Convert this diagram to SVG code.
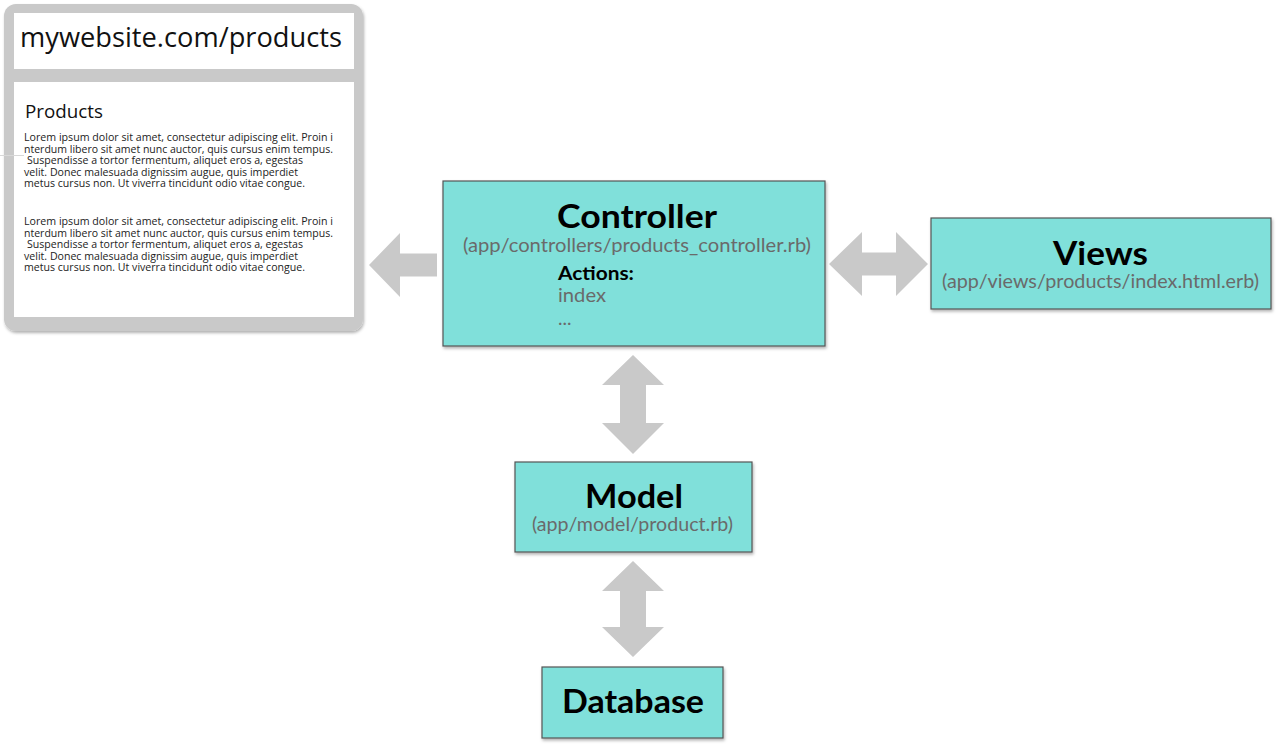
<svg xmlns="http://www.w3.org/2000/svg" width="1277" height="749" viewBox="0 0 1277 749">
<defs>
<style>
.box{fill:#80e0da;stroke:#555;stroke-width:1.2;filter:url(#sh)}
.arrow{fill:#c9c9c9;filter:url(#soft)}
.title{font-family:Lato,"Liberation Sans",sans-serif;font-weight:bold;font-size:32px;fill:#000}
.sub{font-family:Lato,"Liberation Sans",sans-serif;font-size:19px;fill:#6a6a6a}
.lorem{font-family:"Open Sans","Liberation Sans",sans-serif;font-size:10.5px;fill:#222}
</style>
<filter id="sh" x="-10%" y="-10%" width="125%" height="130%">
<feDropShadow dx="1" dy="2" stdDeviation="1.5" flood-color="#000" flood-opacity="0.3"/>
</filter>
<filter id="soft" x="-10%" y="-10%" width="120%" height="120%">
<feGaussianBlur stdDeviation="0.7"/>
</filter>
</defs>
<rect width="1277" height="749" fill="#fff"/>

<g id="browser">
<rect x="4" y="4" width="359" height="327" rx="12" fill="#c9c9c9" filter="url(#sh)"/>
<rect x="14" y="13" width="340" height="56" fill="#fff"/>
<rect x="14" y="82" width="340" height="235" fill="#fff"/>
<line x1="0" y1="155.5" x2="24" y2="155.5" stroke="#d8d8d8" stroke-width="1"/>
<text x="20" y="47" font-family="'Open Sans','Liberation Sans',sans-serif" font-size="27" fill="#111" textLength="322" lengthAdjust="spacingAndGlyphs">mywebsite.com/products</text>
<text x="25" y="118" font-family="'Open Sans','Liberation Sans',sans-serif" font-size="19" fill="#111" textLength="78" lengthAdjust="spacingAndGlyphs">Products</text>
<text class="lorem">
<tspan x="24" y="141" textLength="309" lengthAdjust="spacingAndGlyphs">Lorem ipsum dolor sit amet, consectetur adipiscing elit. Proin i</tspan>
<tspan x="24" y="152.5" textLength="309" lengthAdjust="spacingAndGlyphs">nterdum libero sit amet nunc auctor, quis cursus enim tempus.</tspan>
<tspan x="27" y="164" textLength="276" lengthAdjust="spacingAndGlyphs">Suspendisse a tortor fermentum, aliquet eros a, egestas</tspan>
<tspan x="24" y="175.5" textLength="274" lengthAdjust="spacingAndGlyphs">velit. Donec malesuada dignissim augue, quis imperdiet</tspan>
<tspan x="24" y="187" textLength="281" lengthAdjust="spacingAndGlyphs">metus cursus non. Ut viverra tincidunt odio vitae congue.</tspan>
</text>
<text class="lorem">
<tspan x="24" y="225" textLength="309" lengthAdjust="spacingAndGlyphs">Lorem ipsum dolor sit amet, consectetur adipiscing elit. Proin i</tspan>
<tspan x="24" y="236.5" textLength="309" lengthAdjust="spacingAndGlyphs">nterdum libero sit amet nunc auctor, quis cursus enim tempus.</tspan>
<tspan x="27" y="248" textLength="276" lengthAdjust="spacingAndGlyphs">Suspendisse a tortor fermentum, aliquet eros a, egestas</tspan>
<tspan x="24" y="259.5" textLength="274" lengthAdjust="spacingAndGlyphs">velit. Donec malesuada dignissim augue, quis imperdiet</tspan>
<tspan x="24" y="271" textLength="281" lengthAdjust="spacingAndGlyphs">metus cursus non. Ut viverra tincidunt odio vitae congue.</tspan>
</text>
</g>

<g id="connectors">
<polygon class="arrow" points="369,265 400,233 400,253.5 437,253.5 437,276.5 400,276.5 400,297"/>
<polygon class="arrow" points="829,264 862,232 862,252.5 896,252.5 896,232 928,264 896,296 896,275.5 862,275.5 862,296"/>
<polygon class="arrow" points="633,355 664,385 646,385 646,423 664,423 633,454 602,423 620,423 620,385 602,385"/>
<polygon class="arrow" points="633,561 664,591 646,591 646,627 664,627 633,657 602,627 620,627 620,591 602,591"/>
</g>

<g id="controller">
<rect class="box" x="443" y="181" width="382" height="165"/>
<text class="title" x="557" y="228" textLength="160" lengthAdjust="spacingAndGlyphs">Controller</text>
<text class="sub" x="463" y="252" textLength="348" lengthAdjust="spacingAndGlyphs">(app/controllers/products_controller.rb)</text>
<text x="558" y="280" font-family="Lato,'Liberation Sans',sans-serif" font-weight="bold" font-size="19" fill="#000" textLength="76" lengthAdjust="spacingAndGlyphs">Actions:</text>
<text class="sub" x="558" y="302" textLength="48" lengthAdjust="spacingAndGlyphs">index</text>
<text class="sub" x="558" y="325" font-size="16">...</text>
</g>

<g id="views">
<rect class="box" x="931" y="218" width="340" height="91"/>
<text class="title" x="1053" y="265" textLength="95" lengthAdjust="spacingAndGlyphs">Views</text>
<text class="sub" x="942" y="288" textLength="317" lengthAdjust="spacingAndGlyphs">(app/views/products/index.html.erb)</text>
</g>

<g id="model">
<rect class="box" x="515" y="462" width="237" height="90"/>
<text class="title" x="585" y="508" textLength="98" lengthAdjust="spacingAndGlyphs">Model</text>
<text class="sub" x="532" y="531" textLength="201" lengthAdjust="spacingAndGlyphs">(app/model/product.rb)</text>
</g>

<g id="database">
<rect class="box" x="542" y="667" width="181" height="71"/>
<text class="title" x="562" y="713" textLength="142" lengthAdjust="spacingAndGlyphs">Database</text>
</g>
</svg>
